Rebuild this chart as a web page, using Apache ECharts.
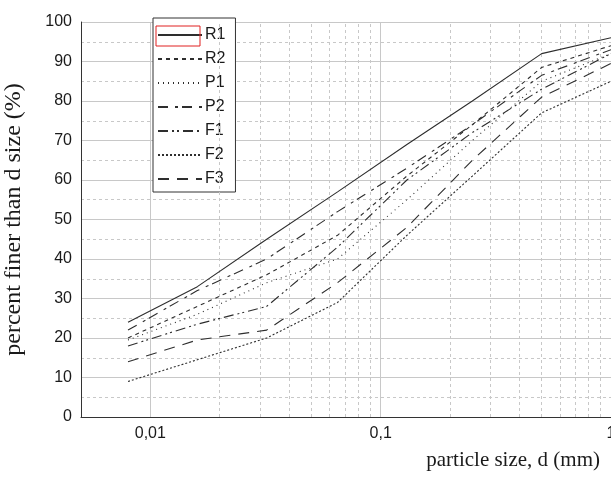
<!DOCTYPE html>
<html>
<head>
<meta charset="utf-8">
<script src="https://cdn.jsdelivr.net/npm/echarts@6/dist/echarts.min.js"></script>
<style>html,body{margin:0;padding:0;background:#fff}#c{width:611px;height:478px}</style>
</head>
<body>
<div id="c"></div>
<script>
// particle sizes (mm) where the curves have their vertices
const sizes = [0.008, 0.016, 0.032, 0.065, 0.13, 0.25, 0.5, 1];
// percent finer than d
const R1 = [24, 33, 45, 57, 69, 80, 92, 96];
const R2 = [20, 28, 36, 46, 61, 74, 88.5, 94];
const P1 = [19.5, 26, 34, 40, 55, 70, 85, 92];
const P2 = [22, 32, 40, 52, 63, 74, 86.5, 93];
const F1 = [18, 23.5, 28, 43, 60, 72, 83, 92];
const F2 = [9, 14.5, 20, 29, 46, 61, 77, 85];
const F3 = [14, 19.5, 22, 34, 48, 65, 81, 89.5];
const seriesNames = ['R1', 'R2', 'P1', 'P2', 'F1', 'F2', 'F3'];
const seriesValues = [R1, R2, P1, P2, F1, F2, F3];
// minor logarithmic grid positions
const minorSizes = [0.006, 0.007, 0.008, 0.009,
  0.02, 0.03, 0.04, 0.05, 0.06, 0.07, 0.08, 0.09,
  0.2, 0.3, 0.4, 0.5, 0.6, 0.7, 0.8, 0.9];

const dashTypes = {
  R1: 'solid',
  R2: [4, 4],
  P1: [1, 4],
  P2: [10, 7, 3, 4],
  F1: [10, 4, 2, 3, 2, 4],
  F2: [2, 2],
  F3: [11, 8]
};

const chart = echarts.init(document.getElementById('c'), null, {renderer: 'canvas'});
const lineColor = '#2e2e2e';

const series = seriesNames.map((n, k) => ({
  name: n,
  type: 'line',
  symbol: 'none',
  z: 5,
  animation: false,
  lineStyle: {color: lineColor, width: 1.1, type: dashTypes[n]},
  itemStyle: {color: lineColor},
  data: sizes.map((x, i) => [x, seriesValues[k][i]])
}));

series.push({
  name: 'minorGrid',
  type: 'line',
  data: [],
  silent: true,
  animation: false,
  z: 1,
  markLine: {
    silent: true,
    animation: false,
    symbol: ['none', 'none'],
    label: {show: false},
    lineStyle: {color: '#c8c8c8', width: 1, type: [3, 3]},
    data: minorSizes.map(v => ({xAxis: v}))
  }
});

chart.setOption({
  animation: false,
  backgroundColor: '#fff',
  grid: {left: 81, right: 0, top: 22, bottom: 61, containLabel: false, outerBoundsMode: 'none'},
  xAxis: {
    type: 'log',
    logBase: 10,
    min: 0.005,
    max: 1,
    axisLine: {show: true, lineStyle: {color: '#333', width: 1}},
    axisTick: {show: false},
    splitLine: {show: true, lineStyle: {color: '#c8c8c8', width: 1, type: 'solid'}},
    axisLabel: {
      fontFamily: 'Liberation Sans, Arial, sans-serif',
      fontSize: 16,
      color: '#1a1a1a',
      margin: 9,
      hideOverlap: false,
      formatter: function (v) {
        const e = Math.log10(v);
        if (Math.abs(e - Math.round(e)) > 1e-6) return '';
        const p = Math.round(e);
        if (p >= 0) return String(Math.pow(10, p));
        return (Math.pow(10, p)).toFixed(-p).replace('.', ',');
      }
    }
  },
  yAxis: {
    type: 'value',
    min: 0,
    max: 100,
    interval: 10,
    name: 'percent finer than d size (%)',
    nameLocation: 'middle',
    nameGap: 55,
    nameTextStyle: {fontFamily: 'Liberation Serif, Times New Roman, serif', fontSize: 24, color: '#1a1a1a'},
    axisLine: {show: true, lineStyle: {color: '#333', width: 1}},
    axisTick: {show: false},
    minorTick: {show: false, splitNumber: 2},
    minorSplitLine: {show: true, lineStyle: {color: '#c8c8c8', width: 1, type: [3, 3]}},
    splitLine: {show: true, lineStyle: {color: '#c8c8c8', width: 1}},
    axisLabel: {
      fontFamily: 'Liberation Sans, Arial, sans-serif',
      fontSize: 16,
      color: '#1a1a1a',
      margin: 9
    }
  },
  legend: {
    data: seriesNames,
    orient: 'vertical',
    left: 153,
    top: 18,
    padding: [9, 10, 5, 4],
    itemWidth: 44,
    itemHeight: 14,
    itemGap: 8,
    backgroundColor: '#fff',
    borderColor: '#333',
    borderWidth: 1,
    borderRadius: 0,
    itemStyle: {opacity: 0, borderWidth: 0},
    textStyle: {fontFamily: 'Liberation Sans, Arial, sans-serif', fontSize: 16, color: '#1a1a1a', padding: [0, 0, 0, -2]},
    selectedMode: false
  },
  graphic: [
    {
      type: 'rect',
      shape: {x: 156, y: 26, width: 44, height: 20},
      style: {fill: 'none', stroke: '#e02020', lineWidth: 1},
      z: 100
    },
    {
      type: 'text',
      right: 11,
      top: 450,
      style: {
        text: 'particle size, d (mm)',
        fontFamily: 'Liberation Serif, Times New Roman, serif',
        fontSize: 21,
        fill: '#1a1a1a'
      }
    }
  ],
  series: series
});
</script>
</body>
</html>
